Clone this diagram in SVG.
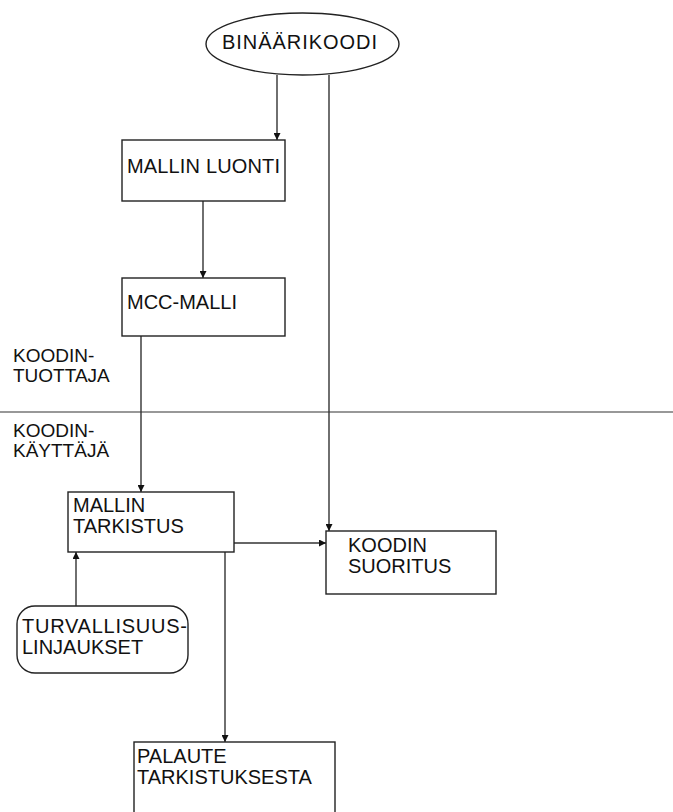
<svg xmlns="http://www.w3.org/2000/svg" width="673" height="812" viewBox="0 0 673 812">
  <style>
    .box { fill: #ffffff; stroke: #222222; stroke-width: 1.4; }
    .lbl { font-family: "Liberation Sans", Arial, sans-serif; font-size: 20px; fill: #111111; }
    .side { font-family: "Liberation Sans", Arial, sans-serif; font-size: 19px; fill: #111111; }
    .edge { fill: none; stroke: #333333; stroke-width: 1.4; }
  </style>
  <defs>
    <marker id="arrow" viewBox="0 0 10 10" refX="10" refY="5" markerWidth="10" markerHeight="7" orient="auto" markerUnits="userSpaceOnUse">
      <path d="M0,0 L10,5 L0,10 Z" fill="#111111"/>
    </marker>
  </defs>
  <rect width="673" height="812" fill="#ffffff"/>

  <!-- lane divider and lane titles -->
  <g id="lanes">
    <line x1="0" y1="412" x2="673" y2="412" stroke="#333333" stroke-width="1.2"/>
    <text class="side" x="13" y="362">KOODIN-</text>
    <text class="side" x="13" y="382">TUOTTAJA</text>
    <text class="side" x="13" y="437">KOODIN-</text>
    <text class="side" x="13" y="457">KÄYTTÄJÄ</text>
  </g>

  <!-- connectors -->
  <g id="connectors">
    <line class="edge" x1="277" y1="75" x2="277" y2="140" marker-end="url(#arrow)"/>
    <line class="edge" x1="329" y1="75" x2="329" y2="531" marker-end="url(#arrow)"/>
    <line class="edge" x1="203" y1="201" x2="203" y2="278" marker-end="url(#arrow)"/>
    <line class="edge" x1="141" y1="336" x2="141" y2="492" marker-end="url(#arrow)"/>
    <line class="edge" x1="234" y1="543" x2="326" y2="543" marker-end="url(#arrow)"/>
    <line class="edge" x1="76" y1="606" x2="76" y2="552" marker-end="url(#arrow)"/>
    <line class="edge" x1="225" y1="552" x2="225" y2="742" marker-end="url(#arrow)"/>
  </g>

  <g id="binaarikoodi">
    <ellipse class="box" cx="302.5" cy="44" rx="96.5" ry="31"/>
    <text class="lbl" x="222" y="49" textLength="155">BINÄÄRIKOODI</text>
  </g>

  <g id="mallin-luonti">
    <rect class="box" x="122" y="140" width="163" height="61"/>
    <text class="lbl" x="127" y="173" textLength="153">MALLIN LUONTI</text>
  </g>

  <g id="mcc-malli">
    <rect class="box" x="122" y="278" width="163" height="58"/>
    <text class="lbl" x="127" y="309">MCC-MALLI</text>
  </g>

  <g id="mallin-tarkistus">
    <rect class="box" x="68" y="492" width="166" height="60"/>
    <text class="lbl" x="73" y="512">MALLIN</text>
    <text class="lbl" x="73" y="533">TARKISTUS</text>
  </g>

  <g id="koodin-suoritus">
    <rect class="box" x="326" y="531" width="170" height="63"/>
    <text class="lbl" x="348" y="552">KOODIN</text>
    <text class="lbl" x="348" y="573">SUORITUS</text>
  </g>

  <g id="turvallisuuslinjaukset">
    <rect class="box" x="17" y="606" width="171" height="67" rx="18" ry="18"/>
    <text class="lbl" x="22" y="633" textLength="165">TURVALLISUUS-</text>
    <text class="lbl" x="22" y="654">LINJAUKSET</text>
  </g>

  <g id="palaute">
    <rect class="box" x="134" y="742" width="201" height="80"/>
    <text class="lbl" x="137" y="763">PALAUTE</text>
    <text class="lbl" x="137" y="784">TARKISTUKSESTA</text>
  </g>
</svg>
